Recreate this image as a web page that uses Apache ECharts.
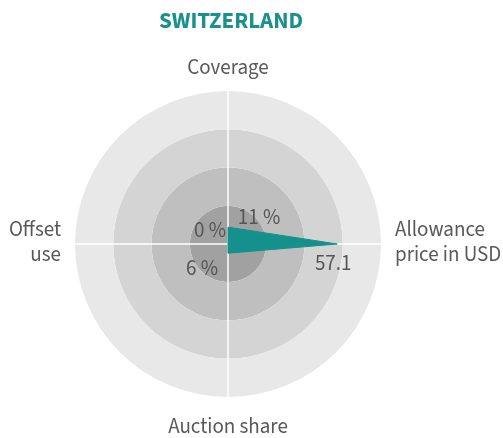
<!DOCTYPE html>
<html>
<head>
<meta charset="utf-8">
<script src="https://cdn.jsdelivr.net/npm/echarts@6/dist/echarts.min.js"></script>
<style>
  html, body { margin: 0; padding: 0; background: #fff; }
  #chart { width: 503px; height: 438px; }
</style>
</head>
<body>
<div id="chart"></div>
<script>
// indicator order follows the radar: top, left, bottom, right (counterclockwise)
const indicators = ['Coverage', 'Offset\nuse', 'Auction share', 'Allowance\nprice in USD']
const maxValues = [100, 100, 100, 80]
const values = [11, 0, 6, 57.1]
const units = [' %', ' %', ' %', '']
// where each value label sits relative to its vertex
const labelOffsets = [[31, -8], [-18, -12], [-26, 17], [-4, 21]]

const font = '"Source Sans Pro", "Source Sans 3", Lato, "Noto Sans", sans-serif'
const teal = '#14918c'

const chart = echarts.init(document.getElementById('chart'))

let series = indicators.map((name, dim) => ({
  type: 'radar',
  silent: true,
  symbol: 'circle',
  symbolSize: 1,
  itemStyle: { color: 'rgba(0,0,0,0)' },
  lineStyle: dim === 0 ? { width: 1, color: teal } : { width: 0, opacity: 0 },
  areaStyle: dim === 0 ? { color: teal, opacity: 1 } : { opacity: 0 },
  label: {
    show: true,
    position: 'inside',
    offset: labelOffsets[dim],
    color: '#555',
    fontSize: 21,
    fontFamily: font,
    formatter: p => p.dimensionIndex === dim ? values[dim] + units[dim] : ''
  },
  data: [{ value: values }],
  z: 2 + dim
}))

let option = {
  animation: false,
  title: {
    text: 'SWITZERLAND',
    left: 226,
    textAlign: 'center',
    top: 6,
    textStyle: { color: '#1a918d', fontSize: 23, fontWeight: 'bold', fontFamily: font }
  },
  radar: {
    center: [228, 244],
    radius: 153,
    shape: 'circle',
    splitNumber: 4,
    startAngle: 90,
    axisNameGap: 14,
    axisName: {
      color: '#595959',
      fontSize: 21,
      lineHeight: 25,
      fontFamily: font,
      // top and bottom names sit a little lower than the gap alone gives
      formatter: (name, ind) => {
        if (name === indicators[0]) return '{top|' + name + '}'
        if (name === indicators[2]) return '{bottom|' + name + '}'
        return name
      },
      rich: {
        top: { color: '#595959', fontSize: 21, fontFamily: font, lineHeight: 15 },
        bottom: { color: '#595959', fontSize: 21, fontFamily: font, lineHeight: 35 }
      }
    },
    indicator: indicators.map((n, i) => ({ name: n, max: maxValues[i], min: 0 })),
    axisLine: { lineStyle: { color: '#ffffff', width: 1.5 } },
    splitLine: { show: false },
    splitArea: { show: true, areaStyle: { color: ['#a2a1a1', '#bfbfbf', '#d4d4d4', '#e8e8e8'] } },
    axisTick: { show: false },
    axisLabel: { show: false }
  },
  series: series
}

chart.setOption(option)
</script>
</body>
</html>
